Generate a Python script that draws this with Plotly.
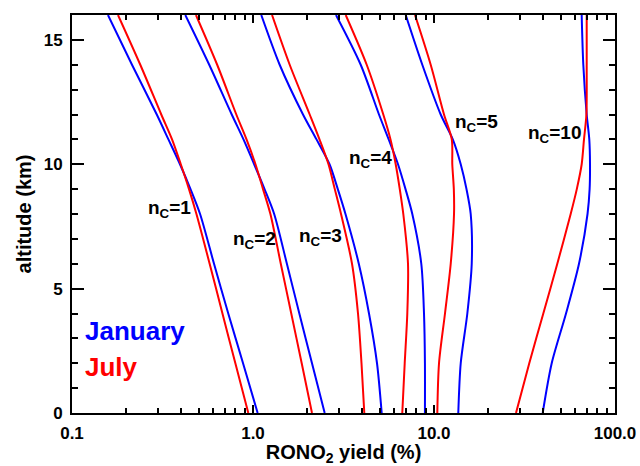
import math
import plotly.graph_objects as go

# ---- data (altitude in km, RONO2 yield in %) ----
alt_grid = [0, 2, 4, 6, 8, 9, 10, 11, 12, 14, 16]

n1_jan = [1.061, 0.881, 0.730, 0.609, 0.510, 0.4516, 0.395, 0.341, 0.294, 0.2145, 0.158]
n1_jul = [0.942, 0.799, 0.678, 0.576, 0.487, 0.443, 0.399, 0.357, 0.3113, 0.2384, 0.1795]

n2_jan = [2.489, 2.118, 1.803, 1.539, 1.309, 1.158, 1.015, 0.886, 0.763, 0.573, 0.4227]
n2_jul = [2.118, 1.858, 1.627, 1.424, 1.248, 1.136, 1.032, 0.921, 0.8087, 0.634, 0.484]

n3_jan = [5.14, 4.843, 4.374, 3.842, 3.243, 2.941, 2.647, 2.243, 1.889, 1.404, 1.111]
n3_jul = [4.12, 3.976, 3.803, 3.524, 3.064, 2.831, 2.613, 2.330, 2.057, 1.595, 1.274]

n4_jan = [8.91, 8.91, 8.806, 8.507, 7.588, 6.96, 6.326, 5.62, 4.967, 3.936, 2.874]
n4_jul = [6.68, 6.889, 7.120, 7.184, 6.767, 6.47, 6.143, 5.75, 5.247, 4.249, 3.253]

n5_jan = [13.62, 14.05, 15.28, 16.16, 15.95, 15.12, 14.05, 12.70, 10.89, 8.617, 6.977]
n5_jul = [10.43, 10.66, 11.50, 12.37, 12.90, 12.87, 12.62, 12.54, 11.36, 9.589, 7.852]

n10_jan = [39.86, 44.7, 53.62, 63.25, 70.5, 72.4, 72.77, 72.1, 69.77, 66.82, 65.46]
n10_jul = [28.38, 33.6, 40.17, 48.0, 56.9, 61.5, 65.46, 67.4, 69.5, 69.77, 69.77]

jan_series = [n1_jan, n2_jan, n3_jan, n4_jan, n5_jan, n10_jan]
jul_series = [n1_jul, n2_jul, n3_jul, n4_jul, n5_jul, n10_jul]

curve_labels = ["n<sub>C</sub>=1", "n<sub>C</sub>=2", "n<sub>C</sub>=3",
                "n<sub>C</sub>=4", "n<sub>C</sub>=5", "n<sub>C</sub>=10"]
label_x = [0.465, 1.38, 3.17, 6.01, 23.2, 66.9]        # yield (%) at right edge of label
label_y = [8.21, 6.94, 7.06, 10.23, 11.67, 11.23]       # altitude (km)

legend_text = ["January", "July"]
legend_x = 0.115
legend_y = [3.3, 1.85]

x_tickvals = [0.1, 1, 10, 100]
x_ticktext = ["0.1", "1.0", "10.0", "100.0"]
x_minor = [m * d for d in (0.1, 1, 10) for m in range(2, 10)]
y_tickvals = [0, 5, 10, 15]
y_minor = [v for v in range(1, 17) if v % 5 != 0]

BLUE = "#0000ff"
RED = "#ff0000"
FONT = "Liberation Sans, Arial, Helvetica, sans-serif"

fig = go.Figure()
for s in jan_series:
    fig.add_trace(go.Scatter(x=s, y=alt_grid, mode="lines",
                             line=dict(color=BLUE, width=2, shape="spline", smoothing=0.8),
                             showlegend=False, hoverinfo="skip"))
for s in jul_series:
    fig.add_trace(go.Scatter(x=s, y=alt_grid, mode="lines",
                             line=dict(color=RED, width=2, shape="spline", smoothing=0.8),
                             showlegend=False, hoverinfo="skip"))

for txt, lx, ly in zip(curve_labels, label_x, label_y):
    fig.add_annotation(x=math.log10(lx), y=ly, xref="x", yref="y", text=txt,
                       showarrow=False, xanchor="right", yanchor="middle",
                       font=dict(family=FONT, size=19, color="black", weight="bold"))

for txt, ly, col in zip(legend_text, legend_y, [BLUE, RED]):
    fig.add_annotation(x=math.log10(legend_x), y=ly, xref="x", yref="y", text=txt,
                       showarrow=False, xanchor="left", yanchor="middle",
                       font=dict(family=FONT, size=26, color=col, weight="bold"))

fig.update_xaxes(type="log", range=[-1, 2], tickmode="array",
                 tickvals=x_tickvals, ticktext=x_ticktext, automargin=False,
                 ticks="inside", ticklen=8, tickwidth=2, tickcolor="black",
                 showline=True, linewidth=2, linecolor="black", mirror="allticks",
                 showgrid=False, zeroline=False, ticklabelstandoff=4,
                 minor=dict(tickmode="array", tickvals=x_minor, ticks="inside",
                            ticklen=5, tickwidth=2, tickcolor="black", showgrid=False),
                 tickfont=dict(family=FONT, size=17, color="black", weight="bold"),
                 title=dict(text="RONO<sub>2</sub> yield (%)", standoff=2,
                            font=dict(family=FONT, size=20, color="black", weight="bold")))
fig.update_yaxes(range=[0, 16], tickmode="array", tickvals=y_tickvals, automargin=False,
                 ticks="inside", ticklen=12, tickwidth=2, tickcolor="black",
                 showline=True, linewidth=2, linecolor="black", mirror="allticks",
                 showgrid=False, zeroline=False, ticklabelstandoff=4,
                 minor=dict(tickmode="array", tickvals=y_minor, ticks="inside",
                            ticklen=6, tickwidth=2, tickcolor="black", showgrid=False),
                 tickfont=dict(family=FONT, size=17, color="black", weight="bold"),
                 title=dict(text="altitude (km)", standoff=7,
                            font=dict(family=FONT, size=20, color="black", weight="bold")))

fig.update_layout(width=640, height=466, margin=dict(l=72, r=25, t=15, b=53),
                  plot_bgcolor="white", paper_bgcolor="white",
                  font=dict(family=FONT, color="black"))

fig.write_html("out.html", config={"displayModeBar": False},
               post_script="document.body.style.margin='0';document.documentElement.style.overflow='hidden';")
